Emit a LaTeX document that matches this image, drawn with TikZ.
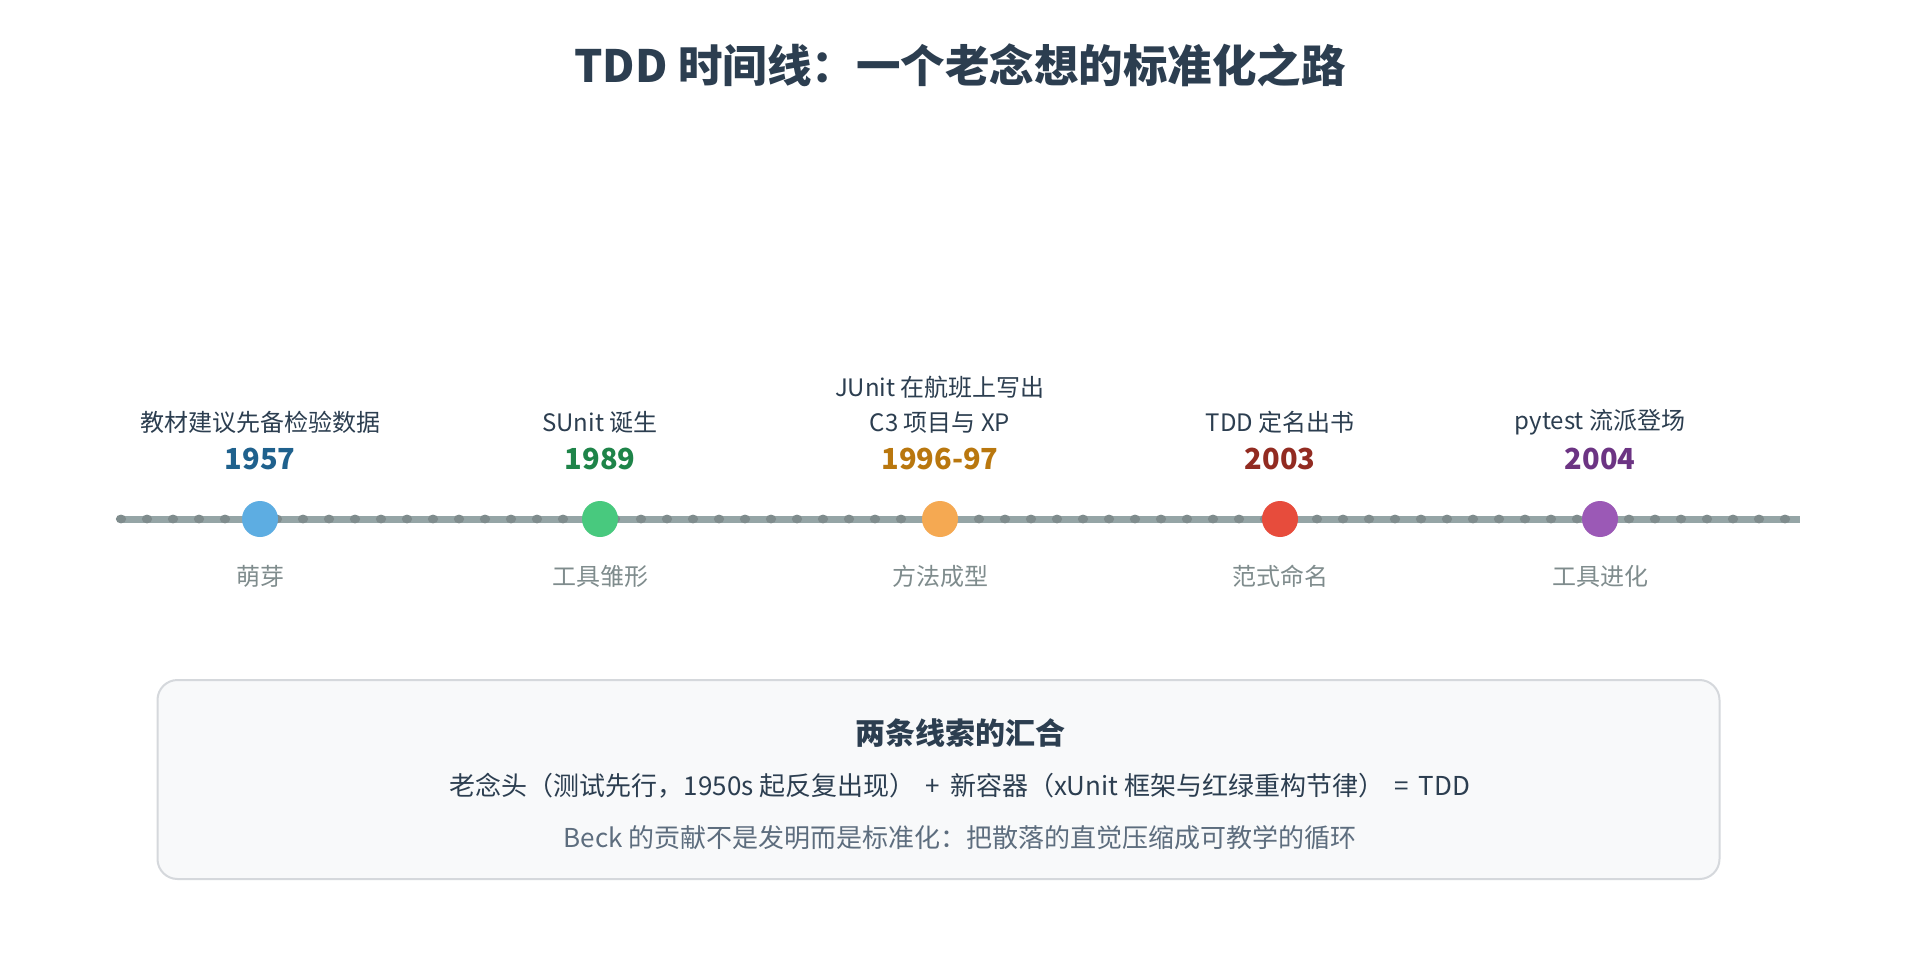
\documentclass[tikz,border=0pt]{standalone}
\usepackage{fontspec}
\setmainfont{Noto Sans CJK SC}
\usetikzlibrary{positioning}

\definecolor{ink}{HTML}{2C3E50}
\definecolor{muted}{HTML}{7F8C8D}
\definecolor{note}{HTML}{5D6D7E}
\definecolor{track}{HTML}{95A5A6}
\definecolor{trackdot}{HTML}{7F8C8D}
\definecolor{boxfill}{HTML}{F8F9FA}
\definecolor{boxline}{HTML}{D5D8DC}
\definecolor{blueA}{HTML}{5DADE2}\definecolor{blueB}{HTML}{1F618D}
\definecolor{greenA}{HTML}{48C97E}\definecolor{greenB}{HTML}{1E8449}
\definecolor{orangeA}{HTML}{F5A952}\definecolor{orangeB}{HTML}{B9770E}
\definecolor{redA}{HTML}{E74C3C}\definecolor{redB}{HTML}{922B21}
\definecolor{purpleA}{HTML}{9B59B6}\definecolor{purpleB}{HTML}{6C3483}

\begin{document}
\begin{tikzpicture}[x=1pt, y=-1pt,
    event/.style={font=\fontsize{24}{35}\selectfont, text=ink, align=center},
    year/.style={font=\fontsize{29}{34}\selectfont\bfseries},
    stage/.style={font=\fontsize{24}{28}\selectfont, text=muted},
    dot/.style={circle, minimum size=36pt, inner sep=0pt}]
    \useasboundingbox[fill=white] (0,0) rectangle (1920,960);

    \node[font=\fontsize{44.5}{50}\selectfont\bfseries, text=ink] (title) at (960,65) {TDD 时间线：一个老念想的标准化之路};

    % the track
    \coordinate (lstart) at (121,519);
    \coordinate (lend) at (1800,519);
    \draw[line width=7pt, track] (lstart) -- (lend);
    \foreach \k in {0,...,64}
        \fill[trackdot] (121+26*\k,519) ellipse (5.2pt and 4.4pt);

    % milestones
    \node[dot, fill=blueA] (d1957) at (260,519) {};
    \node[year, text=blueB] (y1957) at (260,459) {1957};
    \node[event] (e1957) at (260,422) {教材建议先备检验数据};
    \node[stage] (s1957) at (260,576) {萌芽};

    \node[dot, fill=greenA] (d1989) at (600,519) {};
    \node[year, text=greenB] (y1989) at (600,459) {1989};
    \node[event] (e1989) at (600,422) {SUnit 诞生};
    \node[stage] (s1989) at (600,576) {工具雏形};

    \node[dot, fill=orangeA] (d1996) at (940,519) {};
    \node[year, text=orangeB] (y1996) at (940,459) {1996-97};
    \node[event] (e1996) at (940,404.5) {JUnit 在航班上写出\\C3 项目与 XP};
    \node[stage] (s1996) at (940,576) {方法成型};

    \node[dot, fill=redA] (d2003) at (1280,519) {};
    \node[year, text=redB] (y2003) at (1280,459) {2003};
    \node[event] (e2003) at (1280,422) {TDD 定名出书};
    \node[stage] (s2003) at (1280,576) {范式命名};

    \node[dot, fill=purpleA] (d2004) at (1600,519) {};
    \node[year, text=purpleB] (y2004) at (1600,459) {2004};
    \node[event] (e2004) at (1600,422) {pytest 流派登场};
    \node[stage] (s2004) at (1600,576) {工具进化};

    % summary box
    \node[draw=boxline, fill=boxfill, line width=2pt, rounded corners=20pt,
          minimum width=1562pt, minimum height=199pt] (summary) at (938.5,779.5) {};
    \node[font=\fontsize{30}{34}\selectfont\bfseries, text=ink] (sumtitle) at (960,733) {两条线索的汇合};
    \node[font=\fontsize{26}{30}\selectfont, text=ink] (sumeq) at (960,786) {老念头（测试先行，1950s 起反复出现）\hspace{10pt}+\hspace{10pt}新容器（xUnit 框架与红绿重构节律）\hspace{10pt}=\hspace{10pt}TDD};
    \node[font=\fontsize{26}{30}\selectfont, text=note] (sumnote) at (960,838) {Beck 的贡献不是发明而是标准化：把散落的直觉压缩成可教学的循环};
\end{tikzpicture}
\end{document}
